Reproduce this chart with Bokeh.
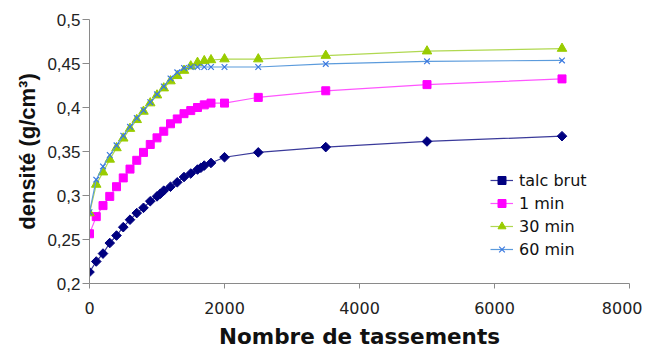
import math
from bokeh.plotting import figure
from bokeh.models import Range1d, FixedTicker, Legend, LegendItem
from bokeh.embed import file_html
from bokeh.resources import INLINE

# ---- data ----
x_talc = [0, 100, 200, 300, 400, 500, 600, 700, 800, 900, 1000, 1050, 1100, 1200,
          1300, 1400, 1500, 1600, 1650, 1700, 1800, 2000, 2500, 3500, 5000, 7000]
y_talc = [0.213, 0.225, 0.234, 0.246, 0.2545, 0.264, 0.2725, 0.280, 0.286, 0.2935,
          0.299, 0.302, 0.3055, 0.310, 0.315, 0.321, 0.325, 0.3295, 0.3315, 0.334,
          0.337, 0.3435, 0.349, 0.355, 0.3614, 0.3674]

x_common = [0, 100, 200, 300, 400, 500, 600, 700, 800, 900, 1000, 1100, 1200,
            1300, 1400, 1500, 1600, 1700, 1800, 2000, 2500, 3500, 5000, 7000]
y_1min = [0.2565, 0.276, 0.2885, 0.299, 0.310, 0.320, 0.330, 0.340, 0.349, 0.358,
          0.3655, 0.373, 0.3815, 0.387, 0.393, 0.3965, 0.400, 0.403, 0.405, 0.405,
          0.4115, 0.419, 0.426, 0.4325]
y_30min = [0.280, 0.3125, 0.3265, 0.341, 0.354, 0.365, 0.376, 0.386, 0.3955, 0.405,
           0.414, 0.422, 0.430, 0.436, 0.442, 0.447, 0.451, 0.453, 0.454, 0.455,
           0.455, 0.459, 0.464, 0.467]
y_60min = [0.281, 0.318, 0.333, 0.346, 0.357, 0.368, 0.378, 0.388, 0.397, 0.406,
           0.415, 0.424, 0.433, 0.440, 0.445, 0.446, 0.446, 0.446, 0.446, 0.446,
           0.446, 0.4495, 0.4525, 0.4535]

series_names = ["talc brut", "1 min", "30 min", "60 min"]
x_ticks = [0, 2000, 4000, 6000, 8000]
x_tick_labels = ["0", "2000", "4000", "6000", "8000"]
y_ticks = [0.2, 0.25, 0.3, 0.35, 0.4, 0.45, 0.5]
y_tick_labels = ["0,2", "0,25", "0,3", "0,35", "0,4", "0,45", "0,5"]
x_title = "Nombre de tassements"
y_title = "densité (g/cm³)"

# ---- figure ----
p = figure(width=642, height=352, output_backend="svg", toolbar_location=None,
           min_border_left=89, min_border_right=13, min_border_top=19,
           min_border_bottom=69,
           x_range=Range1d(0, 8000), y_range=Range1d(0.2, 0.5))
p.outline_line_color = None
p.grid.visible = False
p.background_fill_color = "white"
p.border_fill_color = "white"

axis_col = "#8a8a8a"
p.xaxis.ticker = FixedTicker(ticks=x_ticks)
p.xaxis.major_label_overrides = {t: l for t, l in zip(x_ticks, x_tick_labels)}
p.yaxis.ticker = FixedTicker(ticks=y_ticks)
p.yaxis.major_label_overrides = {t: l for t, l in zip(y_ticks, y_tick_labels)}
for ax in (p.xaxis[0], p.yaxis[0]):
    ax.axis_line_color = axis_col
    ax.major_tick_line_color = axis_col
    ax.minor_tick_line_color = None
    ax.major_tick_in = 0
    ax.major_label_text_color = "#222222"
    ax.axis_label_text_color = "#111111"
    ax.axis_label_text_font_style = "bold"

p.xaxis.major_tick_out = 5
p.xaxis.major_label_standoff = 13
p.xaxis.major_label_text_font = "DejaVu Sans"
p.xaxis.major_label_text_font_size = "16px"
p.xaxis.axis_label = x_title
p.xaxis.axis_label_text_font = "DejaVu Sans"
p.xaxis.axis_label_text_font_size = "21.5px"
p.xaxis.axis_label_standoff = 7

p.yaxis.major_tick_out = 7
p.yaxis.major_label_standoff = 2
p.yaxis.major_label_text_font = "Liberation Sans"
p.yaxis.major_label_text_font_size = "17px"
p.yaxis.axis_label = y_title
p.yaxis.axis_label_text_font = "Liberation Sans"
p.yaxis.axis_label_text_font_size = "22px"
p.yaxis.axis_label_standoff = 4

# ---- series ----
items = []
specs = [
    (x_talc, y_talc, "#000080", "#3a3a9a", "square", 6.8, math.pi / 4),
    (x_common, y_1min, "#FF00FF", "#FF55FF", "square", 8, 0.0),
    (x_common, y_30min, "#99CC00", "#B0D850", "triangle", 9.5, 0.0),
    (x_common, y_60min, "#3A78E0", "#5B9BDC", "x", 8, 0.0),
]
for name, (xs, ys, mcol, lcol, mk, sz, ang) in zip(series_names, specs):
    ln = p.line(xs, ys, line_color=lcol, line_width=1.2)
    if mk == "x":
        sc = p.scatter(xs, ys, marker=mk, size=sz, line_color=mcol, line_width=1.2)
    else:
        sc = p.scatter(xs, ys, marker=mk, size=sz, angle=ang, fill_color=mcol,
                       line_color=mcol, line_width=1)
    items.append(LegendItem(label=name, renderers=[ln, sc]))

legend = Legend(items=items, location=(396, 19), padding=5, spacing=3,
                glyph_width=23, glyph_height=20, label_height=20, label_standoff=6,
                label_text_font="DejaVu Sans", label_text_font_size="16px",
                label_text_color="#111111",
                border_line_alpha=0, background_fill_alpha=0)
p.add_layout(legend, "center")

open("out.html", "w").write(file_html(p, INLINE))
